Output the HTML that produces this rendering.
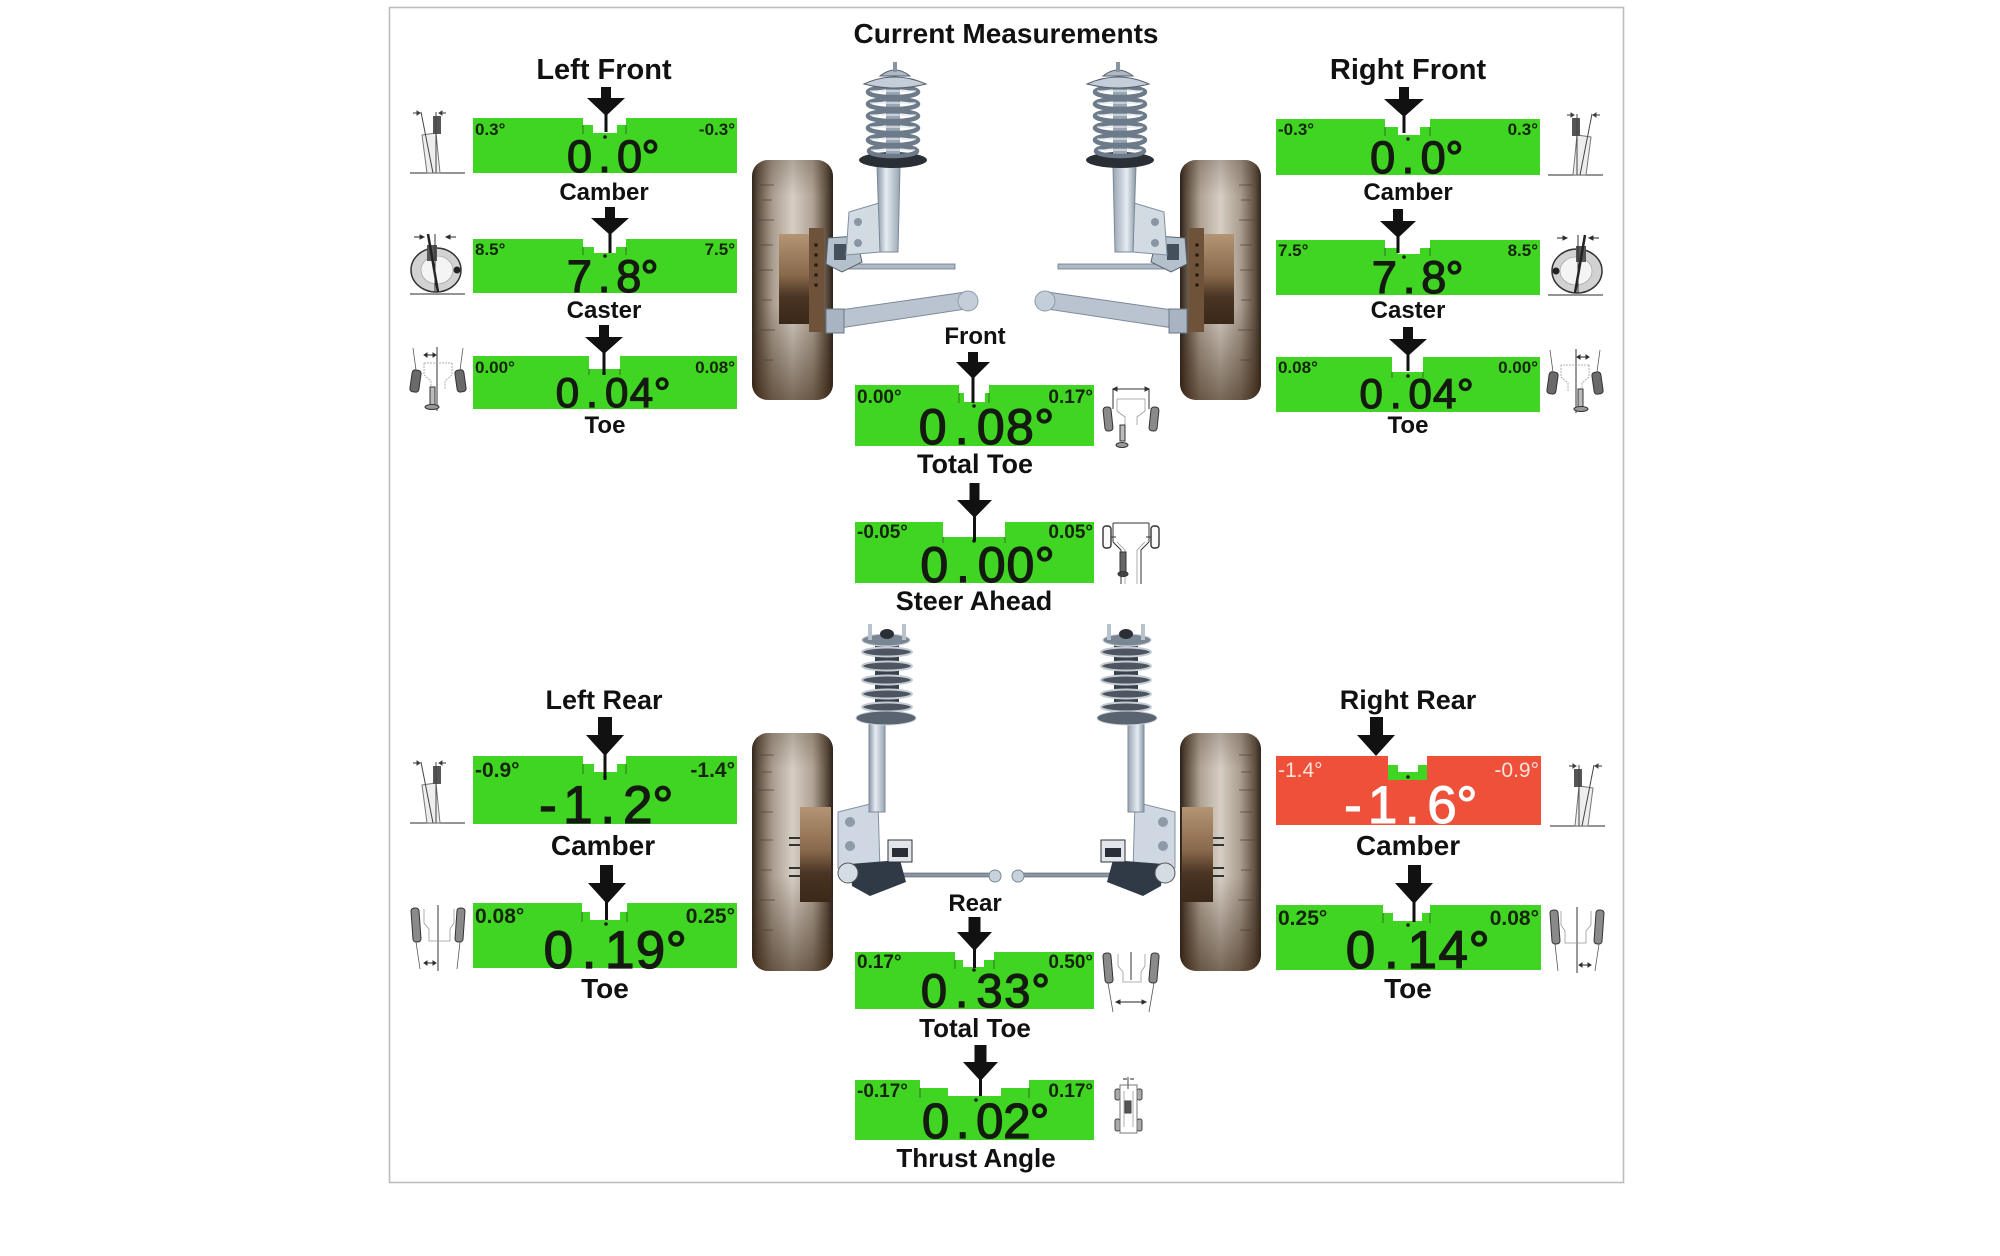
<!DOCTYPE html>
<html><head><meta charset="utf-8">
<style>
html,body{margin:0;padding:0;background:#fff;width:2000px;height:1256px;overflow:hidden;}
svg{display:block;}
.t{font-family:"Liberation Sans",Arial,sans-serif;font-weight:bold;fill:#111;}
.n{font-family:"Liberation Sans",Arial,sans-serif;fill:#141a10;stroke:#141a10;stroke-width:1.3;}
.nw{font-family:"Liberation Sans",Arial,sans-serif;fill:#ffffff;stroke:#ffffff;stroke-width:1.1;}
.s{font-family:"Liberation Sans",Arial,sans-serif;font-weight:bold;fill:#16240c;}
.g{fill:#41d523;}
</style></head><body>
<svg width="2000" height="1256" viewBox="0 0 2000 1256" xmlns="http://www.w3.org/2000/svg">
<defs>
<linearGradient id="tireG" x1="0" x2="1" y1="0" y2="0">
 <stop offset="0" stop-color="#2f251d"/><stop offset="0.07" stop-color="#5e4e40"/>
 <stop offset="0.25" stop-color="#a99c8e"/><stop offset="0.5" stop-color="#d6cec4"/>
 <stop offset="0.75" stop-color="#b0a394"/><stop offset="0.93" stop-color="#5a4a3c"/>
 <stop offset="1" stop-color="#2a2019"/>
</linearGradient>
<linearGradient id="tireV" x1="0" x2="0" y1="0" y2="1">
 <stop offset="0" stop-color="#3a2a1c" stop-opacity="0.25"/><stop offset="0.15" stop-color="#3a2a1c" stop-opacity="0"/>
 <stop offset="0.6" stop-color="#3a2a1c" stop-opacity="0"/><stop offset="1" stop-color="#3a2410" stop-opacity="0.6"/>
</linearGradient>
<linearGradient id="hubG" x1="0" x2="0" y1="0" y2="1">
 <stop offset="0" stop-color="#b39474"/><stop offset="0.45" stop-color="#8a6a4c"/>
 <stop offset="0.7" stop-color="#4a3424"/><stop offset="1" stop-color="#3a2818"/>
</linearGradient>
<linearGradient id="metal" x1="0" x2="1" y1="0" y2="0">
 <stop offset="0" stop-color="#8a96a4"/><stop offset="0.4" stop-color="#e6ecf2"/><stop offset="1" stop-color="#98a4b2"/>
</linearGradient>

<g id="fl">
 <rect x="752" y="160" width="81" height="240" rx="16" fill="url(#tireG)"/>
 <rect x="752" y="160" width="81" height="240" rx="16" fill="url(#tireV)"/>
 <g stroke="#4a3c30" stroke-width="1.2" opacity="0.5">
  <path d="M760 185h14M762 200h10M758 220h16M761 245h12M759 270h14M762 300h10M760 330h15M762 360h11"/>
 </g>
 <rect x="779" y="234" width="31" height="90" fill="url(#hubG)"/>
 <rect x="809" y="228" width="15" height="104" fill="#6e5239"/>
 <g fill="#2a1c12"><circle cx="816" cy="245" r="1.8"/><circle cx="816" cy="255" r="1.8"/><circle cx="816" cy="265" r="1.8"/><circle cx="816" cy="275" r="1.8"/><circle cx="816" cy="285" r="1.8"/></g>
 <polygon points="833,311 833,329 966,309 966,292" fill="#b9c4d0" stroke="#7d8a98" stroke-width="1"/>
 <circle cx="968" cy="301" r="10" fill="#c4ced8" stroke="#8e9aa8"/>
 <rect x="826" y="309" width="18" height="24" fill="#a8b4c2" stroke="#6a7888"/>
 <rect x="840" y="264" width="115" height="5" fill="#aeb9c5" stroke="#6a7888" stroke-width="0.8"/>
 <polygon points="828,238 856,236 862,262 842,272 826,264" fill="#b4c0cc" stroke="#56646f"/>
 <rect x="834" y="244" width="12" height="16" fill="#46505c"/>
 <polygon points="879,203 849,212 846,255 880,252" fill="#d2dae2" stroke="#8090a0"/>
 <circle cx="858" cy="222" r="4" fill="#8a96a4"/><circle cx="858" cy="243" r="4" fill="#8a96a4"/>
 <polygon points="877,166 900,166 898,252 880,252" fill="url(#metal)" stroke="#7a8898"/>
 <ellipse cx="893" cy="160" rx="34" ry="8" fill="#2a2f36"/>
 <rect x="886" y="82" width="14" height="76" fill="#9aa6b4"/>
 <g fill="none" stroke="#6c7a8a" stroke-width="4.5">
  <ellipse cx="893" cy="92" rx="25" ry="5"/><ellipse cx="893" cy="104" rx="25" ry="5"/>
  <ellipse cx="893" cy="116" rx="25" ry="5"/><ellipse cx="893" cy="128" rx="25" ry="5"/>
  <ellipse cx="893" cy="140" rx="25" ry="5"/><ellipse cx="893" cy="151" rx="24" ry="5"/>
 </g>
 <g fill="none" stroke="#e2e8ee" stroke-width="1.3">
  <path d="M870 91h46M870 103h46M870 115h46M870 127h46M870 139h46M871 150h44"/>
 </g>
 <path d="M864 84 Q895 70 926 84 Q895 92 864 84Z" fill="#c5ced8" stroke="#556070"/>
 <path d="M880 76 Q895 64 910 76Z" fill="#aeb9c4" stroke="#556070"/>
 <rect x="893" y="62" width="4" height="10" fill="#8894a2"/>
</g>

<g id="rl">
 <rect x="752" y="733" width="81" height="238" rx="16" fill="url(#tireG)"/>
 <rect x="752" y="733" width="81" height="238" rx="16" fill="url(#tireV)"/>
 <g stroke="#4a3c30" stroke-width="1.2" opacity="0.5">
  <path d="M760 755h14M762 772h10M758 790h16M761 812h12M759 840h14M762 870h10M760 900h15M762 930h11"/>
 </g>
 <rect x="800" y="807" width="31" height="95" fill="url(#hubG)"/>
 <g stroke="#333" stroke-width="2"><path d="M789 838h11M789 845h11M789 868h11M789 876h11"/></g>
 <rect x="896" y="873" width="94" height="4" fill="#8a96a4" stroke="#556" stroke-width="0.6"/>
 <circle cx="995" cy="876" r="6" fill="#c8d2dc" stroke="#7a8896"/>
 <polygon points="838,812 878,802 880,870 838,868" fill="#cfd8e2" stroke="#8391a0"/>
 <circle cx="850" cy="822" r="5" fill="#8e9aa8"/><circle cx="850" cy="846" r="5" fill="#8e9aa8"/>
 <rect x="869" y="722" width="16" height="90" fill="url(#metal)" stroke="#7c8a98"/>
 <polygon points="850,864 900,860 906,882 870,896 852,886" fill="#2f3a46"/>
 <circle cx="848" cy="873" r="10" fill="#d4dce4" stroke="#555"/>
 <rect x="888" y="840" width="24" height="22" fill="#e0e6ec" stroke="#333"/>
 <rect x="892" y="848" width="16" height="9" fill="#2a2f36"/>
 <rect x="875" y="642" width="24" height="72" fill="#39414a"/>
 <g fill="#4c5560" stroke="#c4ccd4" stroke-width="2">
  <ellipse cx="887" cy="652" rx="25" ry="4.5"/><ellipse cx="887" cy="666" rx="25" ry="4.5"/>
  <ellipse cx="887" cy="680" rx="25" ry="4.5"/><ellipse cx="887" cy="694" rx="25" ry="4.5"/>
  <ellipse cx="887" cy="707" rx="25" ry="4.5"/>
 </g>
 <ellipse cx="886" cy="718" rx="30" ry="7" fill="#5a6470" stroke="#cdd4dc"/>
 <ellipse cx="886" cy="640" rx="24" ry="6" fill="#7a8694" stroke="#cdd4dc"/>
 <rect x="868" y="624" width="4" height="16" fill="#b8c2cc"/><rect x="902" y="624" width="4" height="16" fill="#b8c2cc"/>
 <ellipse cx="887" cy="634" rx="7" ry="5" fill="#2a2f36"/>
</g>

<g id="icCamber" fill="none" stroke="#444" stroke-width="1">
 <path d="M0 63H55" stroke="#555" stroke-width="1.2"/>
 <polygon points="12,25 26,23 30,63 17,63" fill="#eeeeee" stroke="#777"/>
 <rect x="23" y="6" width="8" height="18" fill="#555" stroke="none"/>
 <path d="M11 2 L23 63 M26 2 V63"/>
 <path d="M3 3H10 M36 3H29" stroke="#333"/>
 <path d="M10 3l-3-2v4z M29 3l3-2v4z" fill="#333"/>
</g>
<g id="icCaster" fill="none" stroke="#333" stroke-width="1">
 <path d="M0 62H55" stroke="#555" stroke-width="1.2"/>
 <ellipse cx="26" cy="38" rx="25" ry="22" fill="#d2d2d2" stroke="#333" stroke-width="1.5"/>
 <ellipse cx="27" cy="38" rx="16" ry="14" fill="#f4f4f4" stroke="#999" stroke-width="0.6"/>
 <circle cx="47" cy="38" r="3.5" fill="#222" stroke="none"/>
 <rect x="17" y="13" width="10" height="16" fill="#555" stroke="none"/>
 <path d="M18 2 L28 60" stroke="#222" stroke-width="2.5"/>
 <path d="M25 2 V60"/>
 <path d="M4 5H13 M46 5H37" stroke="#222"/>
 <path d="M14 5l-4-2v4z M36 5l4-2v4z" fill="#222"/>
</g>
<g id="icToeF" fill="none" stroke="#333" stroke-width="1">
 <rect x="1" y="25" width="9" height="22" rx="3" fill="#6a6a6a" transform="rotate(8 5 36)"/>
 <rect x="46" y="25" width="9" height="22" rx="3" fill="#6a6a6a" transform="rotate(-8 50 36)"/>
 <path d="M6 25 L3 3 M50 25 L53 3" stroke="#555" stroke-width="0.8"/>
 <path d="M27 2 V66"/>
 <path d="M14 10 H26" stroke="#222"/><path d="M14 10l3-2v4z M26 10l-3-2v4z" fill="#222"/>
 <path d="M14 18 H42 M14 18 V30 L21 36 V44 M42 18 V30 L35 36 V44" stroke="#999" stroke-width="0.8" stroke-dasharray="2 1"/>
 <rect x="20" y="42" width="5" height="18" fill="#bbb"/>
 <ellipse cx="22" cy="62" rx="7" ry="2.5" fill="#999"/>
</g>
<g id="icToeR" fill="none" stroke="#333" stroke-width="1">
 <rect x="2" y="3" width="8" height="34" rx="3" fill="#8a8a8a" transform="rotate(-4 6 20)"/>
 <rect x="46" y="3" width="8" height="34" rx="3" fill="#8a8a8a" transform="rotate(4 50 20)"/>
 <path d="M6 37 L10 64 M50 37 L47 64" stroke="#555" stroke-width="0.8"/>
 <path d="M28 0 V66"/>
 <path d="M14 4 V18 L19 24 V36 H40 V24 L44 18 V4" stroke="#999" stroke-width="0.8"/>
 <path d="M14 58 H26" stroke="#222"/><path d="M14 58l3-2v4z M26 58l-3-2v4z" fill="#222"/>
</g>
</defs>

<rect x="389.5" y="7.5" width="1234" height="1175" fill="none" stroke="#bdbdbd" stroke-width="1.6"/>

<use href="#fl"/>
<use href="#fl" transform="translate(2013,0) scale(-1,1)"/>
<use href="#rl"/>
<use href="#rl" transform="translate(2013,0) scale(-1,1)"/>

<text class="t" x="1006" y="43" font-size="28" text-anchor="middle">Current Measurements</text>
<text class="t" x="604" y="79" font-size="29" text-anchor="middle">Left Front</text>
<text class="t" x="1408" y="79" font-size="29" text-anchor="middle">Right Front</text>
<text class="t" x="604" y="709" font-size="27" text-anchor="middle">Left Rear</text>
<text class="t" x="1408" y="709" font-size="27" text-anchor="middle">Right Rear</text>
<text class="t" x="975" y="344" font-size="24" text-anchor="middle">Front</text>
<text class="t" x="975" y="911" font-size="24" text-anchor="middle">Rear</text>

<path class="g" d="M473 118H583V125H593V133H617V125H626V118H737V173H473Z"/>
<path class="g" d="M473 239H583V247H594V253H616V247H626V239H737V293H473Z"/>
<path class="g" d="M473 356H589V369H620V356H737V409H473Z"/>
<path class="g" d="M1276 119H1385V127H1398V135H1420V127H1430V119H1540V175H1276Z"/>
<path class="g" d="M1276 240H1385V248H1398V254H1420V248H1430V240H1540V295H1276Z"/>
<path class="g" d="M1276 357H1392V372H1423V357H1540V412H1276Z"/>
<path class="g" d="M855 385H959V393H964V402H985V393H989V385H1094V446H855Z"/>
<path class="g" d="M855 522H943V537H1005V522H1094V583H855Z"/>
<path class="g" d="M473 756H583V764H594V772H617V764H626V756H737V824H473Z"/>
<path class="g" d="M473 903H582V912H590V920H620V912H627V903H737V968H473Z"/>
<path fill="#ee503a" d="M1276 756H1388V780H1427V756H1541V825H1276Z"/>
<path class="g" d="M1388 765H1398V772H1418V765H1427V780H1388Z"/>
<path class="g" d="M1276 905H1383V913H1393V921H1422V913H1430V905H1541V970H1276Z"/>
<path class="g" d="M855 952H955V960H963V967H984V960H994V952H1094V1009H855Z"/>
<path class="g" d="M855 1080H920V1088H948V1096H1001V1088H1029V1080H1094V1140H855Z"/>

<g stroke="#2a4a1a" stroke-width="1" opacity="0.7">
 <path d="M583 125v9M626 125v9M583 247v8M626 247v8M589 369v6M620 369v6"/>
 <path d="M1385 127v9M1430 127v9M1385 248v8M1430 248v8M1392 372v6M1423 372v6"/>
 <path d="M959 393v10M989 393v10M943 537v6M1005 537v6"/>
 <path d="M583 764v10M626 764v10M582 912v10M627 912v10M1383 913v10M1430 913v10"/>
 <path d="M955 960v9M994 960v9M920 1088v10M1029 1088v10"/>
</g>
<g fill="#1a1a1a">
 <circle cx="605" cy="137" r="1.8"/><circle cx="605" cy="256" r="1.8"/><circle cx="604" cy="373" r="1.8"/>
 <circle cx="1408" cy="139" r="1.8"/><circle cx="1404" cy="257" r="1.8"/><circle cx="1408" cy="376" r="1.8"/>
 <circle cx="974" cy="406" r="1.8"/><circle cx="974" cy="541" r="1.8"/>
 <circle cx="605" cy="777" r="1.8"/><circle cx="606" cy="924" r="1.8"/><circle cx="1408" cy="777" r="1.8"/><circle cx="1408" cy="925" r="1.8"/>
 <circle cx="974" cy="970" r="1.8"/><circle cx="976" cy="1100" r="1.8"/>
</g>

<g fill="#111">
 <rect x="601" y="87" width="10" height="12"/><polygon points="587,98 625,98 606,116"/><rect x="604.5" y="105" width="3" height="27"/>
 <rect x="605" y="207" width="10" height="12"/><polygon points="591,218 629,218 610,235"/><rect x="608.5" y="225" width="3" height="28"/>
 <rect x="599" y="325" width="10" height="13"/><polygon points="585,337 623,337 604,354"/><rect x="602.5" y="344" width="3" height="31"/>
 <rect x="1399" y="87" width="10" height="13"/><polygon points="1384,99 1424,99 1404,117"/><rect x="1402.5" y="106" width="3" height="27"/>
 <rect x="1393" y="209" width="10" height="13"/><polygon points="1380,221 1416,221 1398,238"/><rect x="1396.5" y="228" width="3" height="25"/>
 <rect x="1403" y="327" width="10" height="13"/><polygon points="1389,339 1427,339 1408,356"/><rect x="1406.5" y="346" width="3" height="25"/>
 <rect x="968" y="352" width="10" height="11"/><polygon points="956,362 990,362 973,379"/><rect x="971.5" y="368" width="3" height="35"/>
 <rect x="969.5" y="483" width="10" height="18"/><polygon points="957,500 992,500 974.5,518"/><rect x="973" y="507" width="3" height="34"/>
 <rect x="598" y="717" width="14" height="19"/><polygon points="586,735 624,735 605,756"/><rect x="603.5" y="745" width="3" height="35"/>
 <rect x="600" y="865" width="13" height="19"/><polygon points="588,883 626,883 607,904"/><rect x="605" y="893" width="3" height="27"/>
 <rect x="1370" y="717" width="13" height="19"/><polygon points="1357,735 1395,735 1376,756"/>
 <rect x="1408" y="865" width="13" height="19"/><polygon points="1395,883 1433,883 1414,904"/><rect x="1412.5" y="893" width="3" height="29"/>
 <rect x="968.5" y="917" width="12" height="16"/><polygon points="957,932 992,932 974.5,951"/><rect x="973" y="940" width="3" height="28"/>
 <rect x="974.5" y="1045" width="12" height="18"/><polygon points="963,1062 998,1062 980.5,1081"/><rect x="979" y="1070" width="3" height="26"/>
</g>

<g class="s" font-size="17">
 <text x="475" y="135">0.3°</text><text x="735" y="135" text-anchor="end">-0.3°</text>
 <text x="475" y="255">8.5°</text><text x="735" y="255" text-anchor="end">7.5°</text>
 <text x="475" y="373">0.00°</text><text x="735" y="373" text-anchor="end">0.08°</text>
 <text x="1278" y="135">-0.3°</text><text x="1538" y="135" text-anchor="end">0.3°</text>
 <text x="1278" y="256">7.5°</text><text x="1538" y="256" text-anchor="end">8.5°</text>
 <text x="1278" y="373">0.08°</text><text x="1538" y="373" text-anchor="end">0.00°</text>
</g>
<g class="s" font-size="19">
 <text x="857" y="403">0.00°</text><text x="1093" y="403" text-anchor="end">0.17°</text>
 <text x="857" y="538">-0.05°</text><text x="1093" y="538" text-anchor="end">0.05°</text>
 <text x="857" y="968">0.17°</text><text x="1093" y="968" text-anchor="end">0.50°</text>
 <text x="857" y="1097">-0.17°</text><text x="1093" y="1097" text-anchor="end">0.17°</text>
</g>
<g class="s" font-size="21">
 <text x="475" y="777">-0.9°</text><text x="735" y="777" text-anchor="end">-1.4°</text>
 <text x="475" y="923">0.08°</text><text x="735" y="923" text-anchor="end">0.25°</text>
 <text x="1278" y="925">0.25°</text><text x="1539" y="925" text-anchor="end">0.08°</text>
</g>
<g font-family="Liberation Sans, Arial, sans-serif" font-size="21" fill="#fbe3dc">
 <text x="1278" y="777">-1.4°</text><text x="1539" y="777" text-anchor="end">-0.9°</text>
</g>

<g class="n" text-anchor="middle">
 <text font-size="45" x="579.5 604.5 629.5 650.5" y="172">0.0°</text>
 <text font-size="45" x="579.4 604.1 628.8 649.5" y="292">7.8°</text>
 <text font-size="42" x="567.4 592 616.7 641.4 662.2" y="407">0.04°</text>
 <text font-size="45" x="1382.6 1407.9 1433.2 1454.4" y="173">0.0°</text>
 <text font-size="45" x="1384.4 1409.1 1433.8 1454.5" y="293">7.8°</text>
 <text font-size="42" x="1371.2 1395.7 1420.2 1444.7 1465.3" y="408">0.04°</text>
 <text font-size="50" x="932.6 961.7 990.8 1019.9 1044.3" y="444">0.08°</text>
 <text font-size="50" x="934.3 963 991.7 1020.4 1044.6" y="582">0.00°</text>
 <text font-size="47" x="933.9 961.7 989.5 1017.3 1040.7" y="1007">0.33°</text>
 <text font-size="49" x="935.6 962.7 989.8 1016.9 1039.6" y="1138">0.02°</text>
 <text font-size="53" x="548 577.9 607.8 637.7 662.8" y="823">-1.2°</text>
 <text font-size="53" x="558.4 589.1 619.8 650.5 676.2" y="968">0.19°</text>
 <text font-size="53" x="1360.5 1391.4 1422.3 1453.2 1479.1" y="968">0.14°</text>
</g>
<text class="nw" text-anchor="middle" font-size="53" x="1352.9 1382.6 1412.3 1442 1466.9" y="823">-1.6°</text>

<g class="t" text-anchor="middle">
 <text x="604" y="200" font-size="24">Camber</text>
 <text x="604" y="318" font-size="24">Caster</text>
 <text x="605" y="433" font-size="24">Toe</text>
 <text x="1408" y="200" font-size="24">Camber</text>
 <text x="1408" y="318" font-size="24">Caster</text>
 <text x="1408" y="433" font-size="24">Toe</text>
 <text x="975" y="473" font-size="27">Total Toe</text>
 <text x="974" y="610" font-size="27">Steer Ahead</text>
 <text x="603" y="855" font-size="28">Camber</text>
 <text x="1408" y="855" font-size="28">Camber</text>
 <text x="605" y="998" font-size="28">Toe</text>
 <text x="1408" y="998" font-size="28">Toe</text>
 <text x="975" y="1037" font-size="26">Total Toe</text>
 <text x="976" y="1167" font-size="26">Thrust Angle</text>
</g>

<use href="#icCamber" transform="translate(410,110)"/>
<use href="#icCamber" transform="translate(1603,112) scale(-1,1)"/>
<use href="#icCamber" transform="translate(410,760)"/>
<use href="#icCamber" transform="translate(1605,763) scale(-1,1)"/>
<use href="#icCaster" transform="translate(410,232)"/>
<use href="#icCaster" transform="translate(1603,233) scale(-1,1)"/>
<use href="#icToeF" transform="translate(410,345)"/>
<use href="#icToeF" transform="translate(1603,347) scale(-1,1)"/>
<use href="#icToeR" transform="translate(410,905)"/>
<use href="#icToeR" transform="translate(1605,907) scale(-1,1)"/>

<g transform="translate(1103,385)" fill="none" stroke="#333" stroke-width="1">
 <path d="M10 4 H46 M10 4 V24 M46 4 V24"/>
 <path d="M10 4l4-2v4z M46 4l-4-2v4z" fill="#333"/>
 <rect x="1" y="22" width="8" height="24" rx="3" fill="#8a8a8a" transform="rotate(-6 5 34)"/>
 <rect x="47" y="22" width="8" height="24" rx="3" fill="#8a8a8a" transform="rotate(6 51 34)"/>
 <path d="M14 14 H42 M14 14 V26 L22 32 V40 M42 14 V26 L34 32 V40" stroke="#999" stroke-width="0.8"/>
 <rect x="17" y="40" width="5" height="16" fill="#bbb"/>
 <ellipse cx="19" cy="60" rx="6" ry="2.5" fill="#999"/>
</g>
<g transform="translate(1103,520)" fill="none" stroke="#333" stroke-width="1">
 <path d="M10 3 H46 M10 3 V22 M46 3 V22"/>
 <rect x="0" y="6" width="8" height="22" rx="3" fill="#fafafa" stroke-width="1.4"/>
 <rect x="48" y="6" width="8" height="22" rx="3" fill="#fafafa" stroke-width="1.4"/>
 <path d="M8 17H13 M48 17H43"/>
 <path d="M10 22 L18 30 V64 M46 22 L38 30 V64"/>
 <path d="M14 22 L22 30 V64 M42 22 L34 30 V64" stroke="#999" stroke-width="0.8"/>
 <rect x="17" y="32" width="6" height="20" fill="#666"/>
 <ellipse cx="20" cy="54" rx="5" ry="2.5" fill="#444"/>
</g>
<g transform="translate(1103,950)" fill="none" stroke="#333" stroke-width="1">
 <rect x="1" y="3" width="8" height="30" rx="3" fill="#8a8a8a" transform="rotate(-5 5 18)"/>
 <rect x="47" y="3" width="8" height="30" rx="3" fill="#8a8a8a" transform="rotate(5 51 18)"/>
 <path d="M5 33 L10 62 M51 33 L46 62" stroke="#555" stroke-width="0.8"/>
 <path d="M28 2 V30"/>
 <path d="M15 4 V16 L20 22 V32 H38 V22 L42 16 V4" stroke="#999" stroke-width="0.8"/>
 <path d="M13 52 H43" stroke="#222"/><path d="M13 52l4-2v4z M43 52l-4-2v4z" fill="#222"/>
</g>
<g transform="translate(1115,1077)" fill="none" stroke="#444" stroke-width="1">
 <path d="M8 2H12 M19 2H15" stroke="#222"/>
 <path d="M13 0V12"/>
 <rect x="0" y="12" width="5" height="11" rx="2" fill="#aaa"/>
 <rect x="22" y="12" width="5" height="11" rx="2" fill="#aaa"/>
 <rect x="0" y="42" width="5" height="12" rx="2" fill="#aaa"/>
 <rect x="22" y="42" width="5" height="12" rx="2" fill="#aaa"/>
 <path d="M5 8 H22 V56 H5 Z" stroke="#777"/>
 <path d="M9 14 V50 M18 14 V50" stroke="#999" stroke-width="0.8"/>
 <rect x="10" y="24" width="6" height="12" fill="#555"/>
</g>
</svg>
</body></html>
